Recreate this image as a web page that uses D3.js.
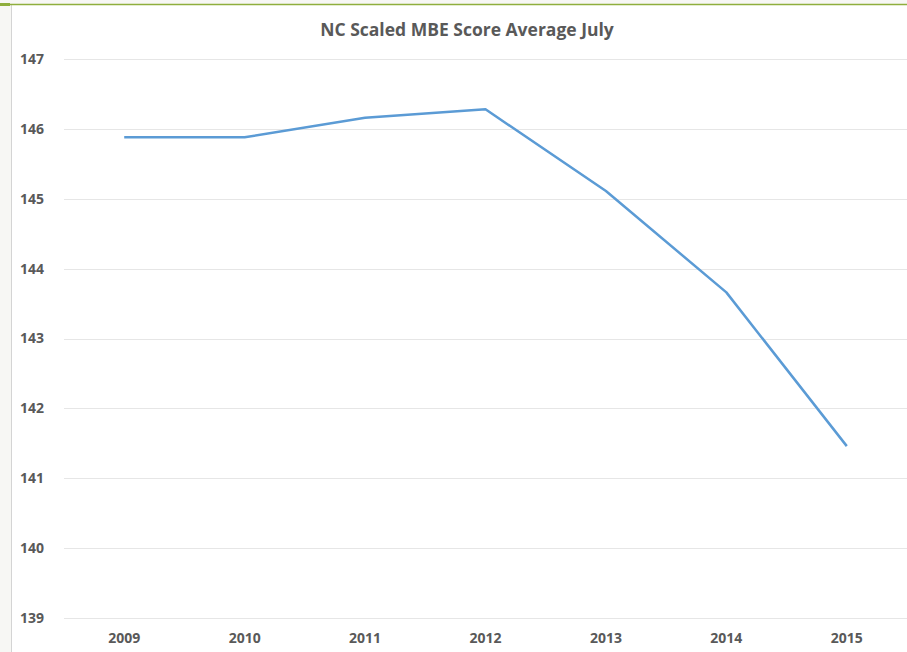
<!DOCTYPE html>
<html lang="en">
<head>
<meta charset="UTF-8">
<title>NC Scaled MBE Score Average July</title>
<script src="https://d3js.org/d3.v7.min.js"></script>
<style>
  body { margin: 0; background: #f7f7f4; }
</style>
</head>
<body>
<div id="chart"></div>
<script>
  // data
  var years = ["2009", "2010", "2011", "2012", "2013", "2014", "2015"];
  var scores = [145.88, 145.88, 146.16, 146.28, 145.11, 143.66, 141.46];
  var yTicks = [139, 140, 141, 142, 143, 144, 145, 146, 147];

  var W = 907, H = 652;
  var margin = {top: 59, right: 0, bottom: 34, left: 64};

  var svg = d3.select("#chart").append("svg")
      .attr("width", W).attr("height", H)
      .style("display", "block");

  // slide frame: white panel, grey left edge, green top rule
  svg.append("rect").attr("x", 12).attr("y", 5).attr("width", W - 12).attr("height", H - 5).attr("fill", "#fff");
  svg.append("line").attr("x1", 11.5).attr("x2", 11.5).attr("y1", 5).attr("y2", H)
      .attr("stroke", "#d4d4d4").attr("stroke-width", 1);
  svg.append("line").attr("x1", 0).attr("x2", W).attr("y1", 4.5).attr("y2", 4.5)
      .attr("stroke", "#8fae3c").attr("stroke-width", 1.5);
  svg.append("rect").attr("x", 0).attr("y", 3).attr("width", 10).attr("height", 3).attr("fill", "#8fae3c");

  var x = d3.scaleBand().domain(years).range([margin.left, W - margin.right]);
  var y = d3.scaleLinear().domain([139, 147]).range([H - margin.bottom, margin.top]);

  // gridlines
  svg.append("g")
    .selectAll("line")
    .data(yTicks)
    .enter().append("line")
      .attr("x1", margin.left).attr("x2", W)
      .attr("y1", function(d){ return Math.round(y(d)) + 0.5; })
      .attr("y2", function(d){ return Math.round(y(d)) + 0.5; })
      .attr("stroke", "#e6e6e6").attr("stroke-width", 1);

  // y labels
  svg.append("g")
    .selectAll("text")
    .data(yTicks)
    .enter().append("text")
      .attr("x", 20)
      .attr("y", function(d){ return y(d); })
      .attr("dy", "0.35em")
      .text(function(d){ return d; })
      .attr("font-family", "Open Sans, sans-serif")
      .attr("font-size", "14px")
      .attr("font-weight", "bold")
      .attr("fill", "#595959");

  // x labels
  svg.append("g")
    .selectAll("text")
    .data(years)
    .enter().append("text")
      .attr("x", function(d){ return x(d) + x.bandwidth() / 2; })
      .attr("y", 643)
      .attr("text-anchor", "middle")
      .text(function(d){ return d; })
      .attr("font-family", "Open Sans, sans-serif")
      .attr("font-size", "14px")
      .attr("font-weight", "bold")
      .attr("fill", "#595959");

  // the line
  var line = d3.line()
      .x(function(d, i){ return x(years[i]) + x.bandwidth() / 2; })
      .y(function(d){ return y(d); });

  svg.append("path")
      .datum(scores)
      .attr("d", line)
      .attr("fill", "none")
      .attr("stroke", "#5b9bd5")
      .attr("stroke-width", 2.5)
      .attr("stroke-linejoin", "round");

  // title
  svg.append("text")
      .attr("x", 467)
      .attr("y", 36)
      .attr("text-anchor", "middle")
      .text("NC Scaled MBE Score Average July")
      .attr("font-family", "Open Sans, sans-serif")
      .attr("font-size", "17.5px")
      .attr("font-weight", "bold")
      .attr("fill", "#595959");
</script>
</body>
</html>
